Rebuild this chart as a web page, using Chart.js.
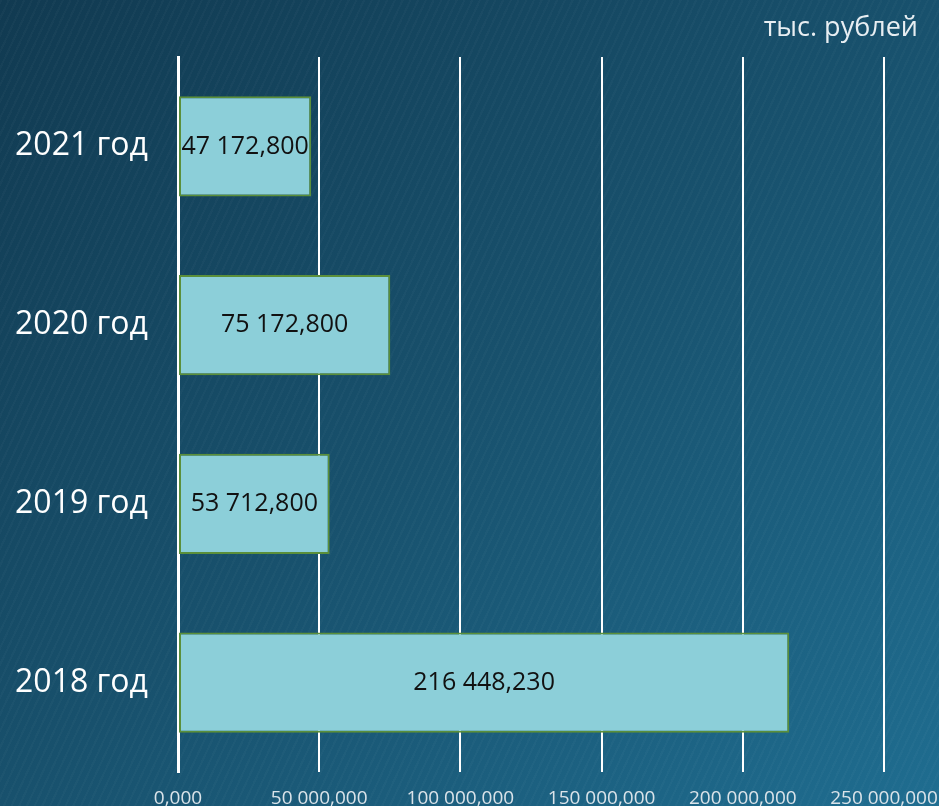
<!DOCTYPE html>
<html lang="ru">
<head>
<meta charset="utf-8">
<title>тыс. рублей</title>
<script src="https://cdn.jsdelivr.net/npm/chart.js@4/dist/chart.umd.min.js"></script>
<style>
  html, body { margin: 0; padding: 0; width: 939px; height: 806px; overflow: hidden; }
  body {
    background:
      repeating-linear-gradient(115deg, rgba(255,255,255,0.025) 0 2px, rgba(0,0,0,0) 2px 7px),
      linear-gradient(to bottom right, #113a51 0%, #18516d 50%, #1f6d90 100%);
  }
  canvas { display: block; }
</style>
</head>
<body>
<canvas id="chart" width="939" height="806"></canvas>
<script>
// categories, top to bottom
const years = ['2021 год', '2020 год', '2019 год', '2018 год'];
// тыс. рублей
const amounts = [47172.8, 75172.8, 53712.8, 216448.23];
const axisMax = 250000;
const axisStep = 50000;
const unitLabel = 'тыс. рублей';

const FONT = "'Open Sans', 'DejaVu Sans', sans-serif";

// 216448.23 -> "216 448,230"
function fmt(v) {
  const parts = Number(v).toFixed(3).split('.');
  const int = parts[0].replace(/\B(?=(\d{3})+(?!\d))/g, ' ');
  return int + ',' + parts[1];
}

// value labels in the middle of each bar
const barLabels = {
  id: 'barLabels',
  afterDatasetsDraw(chart) {
    const ctx = chart.ctx;
    const meta = chart.getDatasetMeta(0);
    ctx.save();
    ctx.font = '25px ' + FONT;
    ctx.fillStyle = '#111';
    ctx.textAlign = 'center';
    ctx.textBaseline = 'middle';
    meta.data.forEach((bar, i) => {
      const p = bar.getProps(['x', 'y', 'base'], true);
      ctx.fillText(fmt(amounts[i]), (p.x + p.base) / 2, p.y);
    });
    ctx.restore();
  }
};

new Chart(document.getElementById('chart').getContext('2d'), {
  type: 'bar',
  data: {
    labels: years,
    datasets: [{
      data: amounts,
      backgroundColor: '#8ccfd9',
      borderColor: '#5b8f3a',
      borderWidth: 2,
      borderSkipped: false,
      barPercentage: 0.56,
      categoryPercentage: 1,
    }],
  },
  options: {
    indexAxis: 'y',
    responsive: false,
    animation: false,
    devicePixelRatio: 1,
    layout: { padding: { right: 21 } },
    plugins: {
      legend: { display: false },
      tooltip: { enabled: false },
      title: {
        display: true,
        text: unitLabel,
        align: 'end',
        color: '#e8eef2',
        font: { family: FONT, size: 27, weight: 'normal', lineHeight: 1.2 },
        padding: { top: 12, bottom: 12.6 },
      },
    },
    scales: {
      x: {
        min: 0,
        max: axisMax,
        grid: { color: '#ffffff', lineWidth: 2, drawTicks: false },
        border: { display: false },
        ticks: {
          stepSize: axisStep,
          autoSkip: false,
          maxRotation: 0,
          padding: 17,
          color: '#dae3e9',
          font: { family: FONT, size: 19, lineHeight: 1 },
          callback: v => fmt(v),
        },
        afterFit(scale) {
          scale.height = 34;
          scale.paddingRight = 55;
        },
      },
      y: {
        grid: { display: false, drawTicks: false },
        border: { display: true, color: '#ffffff', width: 3 },
        ticks: {
          padding: 30,
          color: '#ffffff',
          font: { family: FONT, size: 32 },
        },
        afterFit(scale) {
          scale.width = 178;
          scale.paddingTop = 0;
          scale.paddingBottom = 0;
        },
      },
    },
  },
  plugins: [barLabels],
});
</script>
</body>
</html>
